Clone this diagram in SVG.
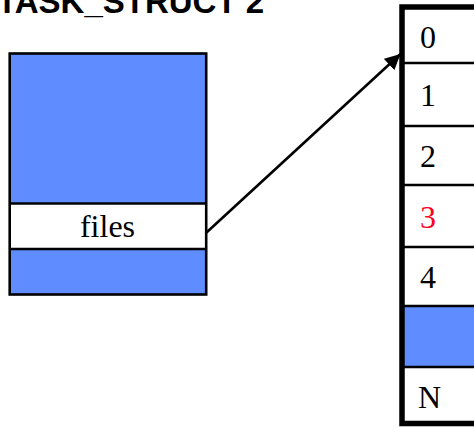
<svg xmlns="http://www.w3.org/2000/svg" width="474" height="427" viewBox="0 0 474 427">
<defs>
<style>
.blue{fill:#5f8cff}
.white{fill:#ffffff}
.thin{stroke:#000;stroke-width:2.6;fill:none}
.thick{stroke:#000;stroke-width:5.5;fill:none}
.lbl{font-family:"Liberation Serif","Times New Roman",serif;font-size:32px;fill:#000}
.title{font-family:"Liberation Sans",Arial,sans-serif;font-weight:bold;font-size:33px;fill:#000}
</style>
<marker id="ah" viewBox="0 0 10 10" refX="10" refY="5" markerWidth="6" markerHeight="6" markerUnits="strokeWidth" orient="auto">
<path d="M0,0 L10,5 L0,10 Z" fill="#000"/>
</marker>
</defs>
<rect width="474" height="427" fill="#fff"/>
<text class="title" x="-3" y="13">TASK_STRUCT 2</text>
<g id="task_struct">
<rect class="blue" x="9.7" y="53.5" width="196.5" height="241"/>
<rect class="white" x="9.7" y="203.5" width="196.5" height="45.5"/>
<rect class="thin" x="9.7" y="53.5" width="196.5" height="241"/>
<line class="thin" x1="9.7" y1="203.5" x2="206.2" y2="203.5"/>
<line class="thin" x1="9.7" y1="249" x2="206.2" y2="249"/>
<text class="lbl" x="107.5" y="237" text-anchor="middle" font-size="30">files</text>
</g>
<g id="fd_array">
<rect class="white" x="402" y="7" width="80" height="416.5"/>
<rect class="blue" x="402" y="306" width="80" height="61"/>
<line class="thin" x1="402" y1="63" x2="480" y2="63"/>
<line class="thin" x1="402" y1="126" x2="480" y2="126"/>
<line class="thin" x1="402" y1="185" x2="480" y2="185"/>
<line class="thin" x1="402" y1="247" x2="480" y2="247"/>
<line class="thin" x1="402" y1="306" x2="480" y2="306"/>
<line class="thin" x1="402" y1="367" x2="480" y2="367"/>
<path class="thick" d="M480,7 L402,7 L402,423.5 L480,423.5"/>
<text class="lbl" x="420" y="48">0</text>
<text class="lbl" x="420" y="106">1</text>
<text class="lbl" x="420" y="167">2</text>
<text class="lbl" x="420" y="228" style="fill:#ff0022">3</text>
<text class="lbl" x="420" y="288">4</text>
<text class="lbl" x="418" y="408">N</text>
</g>
<g id="connectors">
<line x1="206.5" y1="232.5" x2="400.5" y2="54" stroke="#000" stroke-width="2.6" marker-end="url(#ah)"/>
</g>
</svg>
